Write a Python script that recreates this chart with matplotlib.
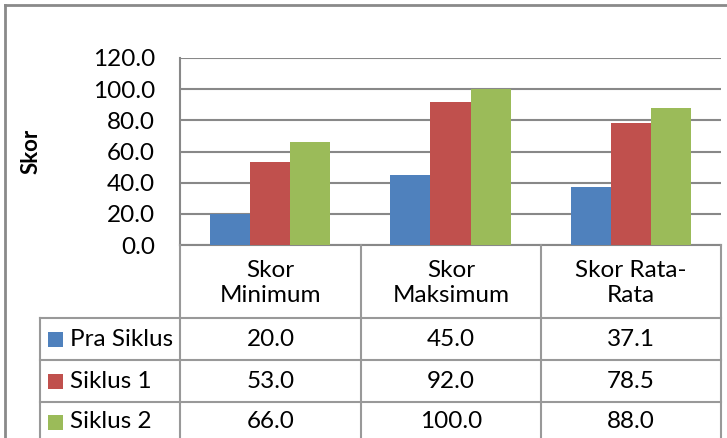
import matplotlib
matplotlib.use("Agg")
import matplotlib.pyplot as plt
from matplotlib.lines import Line2D
from matplotlib.patches import Rectangle
import numpy as np

categories = ["Skor\nMinimum", "Skor\nMaksimum", "Skor Rata-\nRata"]
series_names = ["Pra Siklus", "Siklus 1", "Siklus 2"]
pra_siklus = [20.0, 45.0, 37.1]
siklus_1 = [53.0, 92.0, 78.5]
siklus_2 = [66.0, 100.0, 88.0]
y_ticks = [0, 20, 40, 60, 80, 100, 120]
colors = ["#4F81BD", "#C0504D", "#9BBB59"]

W, H = 727, 438
plt.rcParams['font.family'] = ['Lato', 'DejaVu Sans']
fig = plt.figure(figsize=(W / 100, H / 100), dpi=100)
fig.patch.set_facecolor("white")

FS = 17.5

def fx(x):
    return x / W

def fy(y):
    return 1 - y / H

# plot area in pixels
L, R, T, B = 180, 721, 58, 245
ax = fig.add_axes([fx(L), fy(B), fx(R) - fx(L), fy(T) - fy(B)])

series = [pra_siklus, siklus_1, siklus_2]
n = len(categories)
x = np.arange(n)
bw = 1 / 4.5
for i, vals in enumerate(series):
    ax.bar(x + (i - 1) * bw, vals, width=bw, color=colors[i], zorder=3, linewidth=0)

ax.set_xlim(-0.5, n - 0.5)
ax.set_ylim(0, 120)
ax.set_yticks(y_ticks)
ax.set_yticklabels([f"{v:.1f}" for v in y_ticks], fontsize=FS)
ax.set_xticks([])
ax.tick_params(axis='y', length=0, pad=18)
ax.grid(axis='y', color="#888888", linewidth=1.5, zorder=0)
for s in ["top", "right"]:
    ax.spines[s].set_visible(False)
ax.spines["left"].set_color("#888888")
ax.spines["left"].set_linewidth(1.5)
ax.spines["bottom"].set_color("#888888")
ax.spines["bottom"].set_linewidth(1.5)

fig.text(fx(31), fy(151), "Skor", rotation=90, fontsize=16, fontweight="bold",
         ha="center", va="center")

gray = "#999999"
def hline(y, x0, x1, c=gray, lw=1.5):
    fig.add_artist(Line2D([fx(x0), fx(x1)], [fy(y), fy(y)], color=c, lw=lw,
                          transform=fig.transFigure))

def vline(x, y0, y1, c=gray, lw=1.5):
    fig.add_artist(Line2D([fx(x), fx(x)], [fy(y0), fy(y1)], color=c, lw=lw,
                          transform=fig.transFigure))

# outer chart border
hline(5, 5, 740, c="#8a8a8a", lw=2)
vline(5, 5, 445, c="#8a8a8a", lw=2)

# data table grid
cols = [L, 361, 541, R]
rows = [318, 360, 402]
for y in rows:
    hline(y, 40, R)
vline(40, 318, 445)
for xc in cols:
    vline(xc, B, 445)

# header category labels
for j, cat in enumerate(categories):
    cx = (cols[j] + cols[j + 1]) / 2
    fig.text(fx(cx), fy(283), cat, ha="center", va="center", fontsize=FS,
             linespacing=1.2)

# legend + values rows
row_centers = [339, 381, 422]
for i, name in enumerate(series_names):
    yc = row_centers[i]
    fig.add_artist(Rectangle((fx(48), fy(yc + 8)), fx(15), fy(yc - 7) - fy(yc + 8),
                             facecolor=colors[i], edgecolor="none",
                             transform=fig.transFigure))
    fig.text(fx(70), fy(yc), name, ha="left", va="center", fontsize=FS)
    for j in range(n):
        cx = (cols[j] + cols[j + 1]) / 2
        fig.text(fx(cx), fy(yc), f"{series[i][j]:.1f}", ha="center",
                 va="center", fontsize=FS)

fig.savefig("out.png", dpi=100, facecolor="white")
